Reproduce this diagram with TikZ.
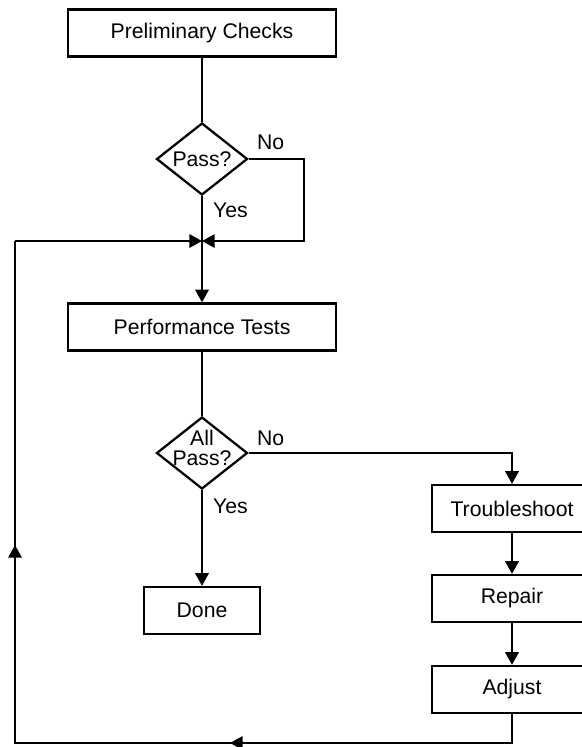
\documentclass[tikz,border=0pt]{standalone}
\usepackage{fontspec}
\setmainfont{Liberation Sans}
\usetikzlibrary{shapes.geometric}
\usetikzlibrary{arrows.meta}

\begin{document}
\begin{tikzpicture}[x=0.75pt,y=0.75pt,yscale=-1,xscale=1,
  font=\fontsize{15.9}{15.4}\selectfont,line width=1.7pt,
  box/.style={draw,inner sep=0.75pt,minimum height=35.25pt},
  decision/.style={draw,shape=diamond,inner sep=0pt,minimum width=68.25pt,minimum height=54pt},
  arr/.style={-{Triangle[length=9.5pt,width=10pt]}}]
%set diagram to the size of the reference
\useasboundingbox (0,0) rectangle (582,747);

%Shape: Rectangle [prelim]
\node [box,minimum width=201pt] (prelim) at (202,33) {Preliminary Checks};
%Shape: Diamond [pass]
\node [decision] (pass) at (202,159) {};
%Shape: Rectangle [perf]
\node [box,minimum width=201pt] (perf) at (202,327) {Performance Tests};
%Shape: Diamond [allpass]
\node [decision] (allpass) at (202,453) {};
%Shape: Rectangle [done]
\node [box,minimum width=87pt] (done) at (202,610.5) {Done};
%Shape: Rectangle [trouble]
\node [box,minimum width=120pt] (trouble) at (512,508.5) {Troubleshoot};
%Shape: Rectangle [repair]
\node [box,minimum width=120pt] (repair) at (512,598.5) {Repair};
%Shape: Rectangle [adjust]
\node [box,minimum width=120pt] (adjust) at (512,689.5) {Adjust};

% Text Node
\node [inner sep=0.75pt] (passtext) at (202,159) {Pass?};
% Text Node
\node [inner sep=0.75pt,align=center] (allpasstext) at (202,448) {All\\Pass?};
% Text Node
\node [anchor=west,inner sep=0.75pt] (nopass) at (255,142) {No};
% Text Node
\node [anchor=west,inner sep=0.75pt] (yespass) at (211,210) {Yes};
% Text Node
\node [anchor=west,inner sep=0.75pt] (noall) at (255,438) {No};
% Text Node
\node [anchor=west,inner sep=0.75pt] (yesall) at (211,506) {Yes};

%corners of the loops
\coordinate (merge) at (202,241);
\coordinate (nocorner) at (304,159);
\coordinate (troublecorner) at (512,453);
\coordinate (bottomright) at (512,743);
\coordinate (bottomleft) at (15,743);
\coordinate (topleft) at (15,241);
\coordinate (bottomtip) at (230,743);
\coordinate (lefttip) at (15,545);

%Straight Lines
\draw (prelim) -- (pass);
\draw (pass) -- (merge);
\draw [arr] (pass) -- (nocorner) |- (merge);
\draw [arr] (merge) -- (perf);
\draw (perf) -- (allpass);
\draw [arr] (allpass) -- (troublecorner) -- (trouble);
\draw [arr] (allpass) -- (done);
\draw [arr] (trouble) -- (repair);
\draw [arr] (repair) -- (adjust);

%Return loop
\draw (adjust) -- (bottomright) -- (bottomleft) -- (topleft);
\draw [arr] (bottomright) -- (bottomtip);
\draw [arr] (bottomleft) -- (lefttip);
\draw [arr] (topleft) -- (merge);

\end{tikzpicture}
\end{document}
